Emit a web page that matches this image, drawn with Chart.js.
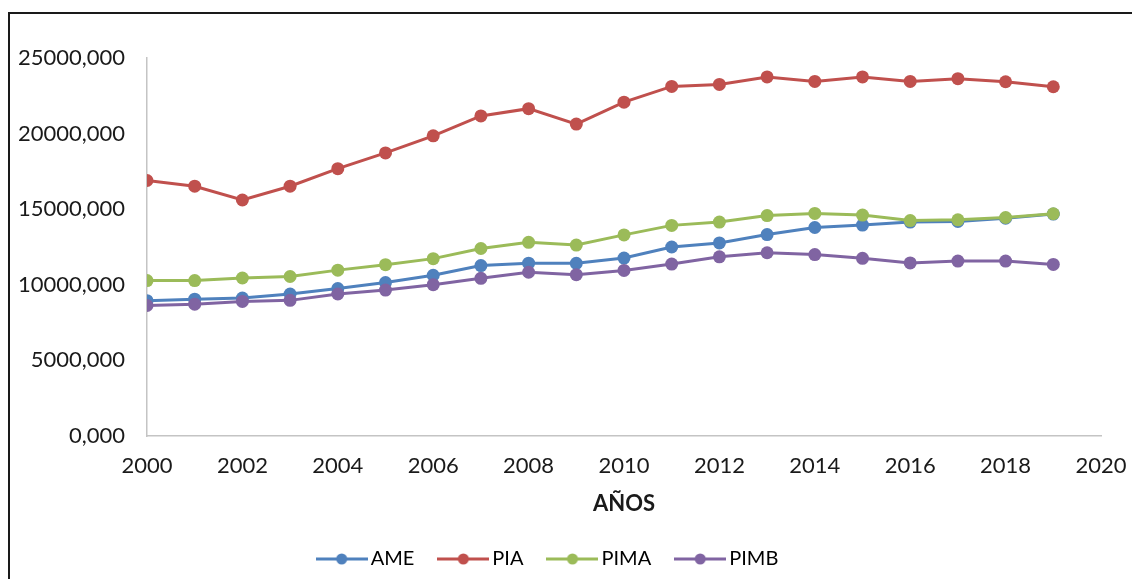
<!DOCTYPE html>
<html>
<head>
<meta charset="utf-8">
<script src="https://cdn.jsdelivr.net/npm/chart.js@4/dist/chart.umd.min.js"></script>
<style>
  html, body { margin: 0; padding: 0; background: #ffffff; }
  #wrap { width: 1132px; height: 579px; position: relative; }
</style>
</head>
<body>
<div id="wrap"><canvas id="c" width="1132" height="579"></canvas></div>
<script>
// Years on the horizontal axis
const years = [2000, 2001, 2002, 2003, 2004, 2005, 2006, 2007, 2008, 2009,
               2010, 2011, 2012, 2013, 2014, 2015, 2016, 2017, 2018, 2019];

// Series values
const ame  = [8950, 9050, 9120, 9390, 9750, 10150, 10630, 11270, 11430, 11420,
              11770, 12500, 12770, 13320, 13790, 13950, 14150, 14190, 14400, 14680];
const pia  = [16900, 16520, 15610, 16520, 17680, 18720, 19850, 21170, 21650, 20630,
              22080, 23120, 23250, 23750, 23450, 23750, 23450, 23630, 23430, 23100];
const pima = [10280, 10280, 10450, 10550, 10970, 11330, 11730, 12400, 12810, 12630,
              13300, 13930, 14150, 14580, 14720, 14610, 14250, 14300, 14450, 14700];
const pimb = [8630, 8720, 8900, 8970, 9390, 9650, 10010, 10430, 10830, 10670,
              10950, 11370, 11850, 12120, 12000, 11750, 11450, 11570, 11570, 11350];

const seriesNames  = ['AME', 'PIA', 'PIMA', 'PIMB'];
const seriesColors = ['#4F81BD', '#C0504D', '#9BBB59', '#8064A2'];
const seriesValues = [ame, pia, pima, pimb];

const xTitle = 'AÑOS';
const fontFamily = 'Lato, "Liberation Sans", sans-serif';

// Legend icon: short line with a marker in the middle
function legendIcon(color) {
  const cv = document.createElement('canvas');
  cv.width = 52; cv.height = 14;
  const g = cv.getContext('2d');
  g.strokeStyle = color; g.lineWidth = 3;
  g.beginPath(); g.moveTo(0, 7); g.lineTo(52, 7); g.stroke();
  g.fillStyle = color;
  g.beginPath(); g.arc(26, 7, 5.5, 0, Math.PI * 2); g.fill();
  return cv;
}
const icons = seriesColors.map(legendIcon);

// Frame around the figure
const framePlugin = {
  id: 'frame',
  beforeDraw(chart) {
    const ctx = chart.ctx;
    ctx.save();
    ctx.fillStyle = '#ffffff';
    ctx.fillRect(0, 0, chart.width, chart.height);
    ctx.strokeStyle = '#1a1a1a';
    ctx.lineWidth = 2;
    ctx.strokeRect(9, 13, 1300, 800);
    ctx.restore();
  }
};

const datasets = seriesNames.map((name, i) => ({
  label: name,
  data: years.map((y, k) => ({ x: y, y: seriesValues[i][k] })),
  borderColor: seriesColors[i],
  backgroundColor: seriesColors[i],
  pointBackgroundColor: seriesColors[i],
  pointBorderColor: seriesColors[i],
  pointRadius: 6.5,
  pointBorderWidth: 0,
  borderWidth: 3,
  tension: 0,
  order: seriesNames.length - i
}));

new Chart(document.getElementById('c'), {
  type: 'line',
  data: { datasets },
  plugins: [framePlugin],
  options: {
    responsive: false,
    animation: false,
    devicePixelRatio: 1,
    layout: { padding: { left: 0, right: 31, top: 58, bottom: 0 } },
    plugins: {
      tooltip: { enabled: false },
      legend: {
        position: 'bottom',
        labels: {
          usePointStyle: true,
          pointStyleWidth: 38,
          padding: 30,
          color: '#1a1a1a',
          font: { family: fontFamily, size: 20 },
          generateLabels: (chart) => chart.data.datasets.map((ds, i) => ({
            text: ds.label,
            pointStyle: icons[i],
            fillStyle: seriesColors[i],
            strokeStyle: seriesColors[i],
            lineWidth: 0,
            hidden: false,
            datasetIndex: i
          }))
        }
      }
    },
    scales: {
      x: {
        type: 'linear',
        min: 2000,
        max: 2020,
        grid: { display: false, drawTicks: false },
        border: { display: true, color: '#c4c4c4', width: 1.5 },
        ticks: {
          stepSize: 2,
          padding: 17,
          color: '#1a1a1a',
          font: { family: fontFamily, size: 22 },
          maxRotation: 0,
          callback: (v) => String(v)
        },
        title: {
          display: true,
          text: xTitle,
          color: '#1a1a1a',
          font: { family: fontFamily, size: 22, weight: 'bold' },
          padding: { top: 0, bottom: 2 }
        },
        afterFit(scale) {
          scale.height = 83;
          scale.paddingLeft = 0;
          scale.paddingRight = 0;
        }
      },
      y: {
        min: 0,
        max: 25000,
        grid: { display: false, drawTicks: false },
        border: { display: true, color: '#c4c4c4', width: 1.5 },
        ticks: {
          stepSize: 5000,
          padding: 22,
          color: '#1a1a1a',
          font: { family: fontFamily, size: 22 },
          callback: (v) => v.toFixed(3).replace('.', ',')
        },
        afterFit(scale) { scale.width = 147; }
      }
    }
  }
});
</script>
</body>
</html>
